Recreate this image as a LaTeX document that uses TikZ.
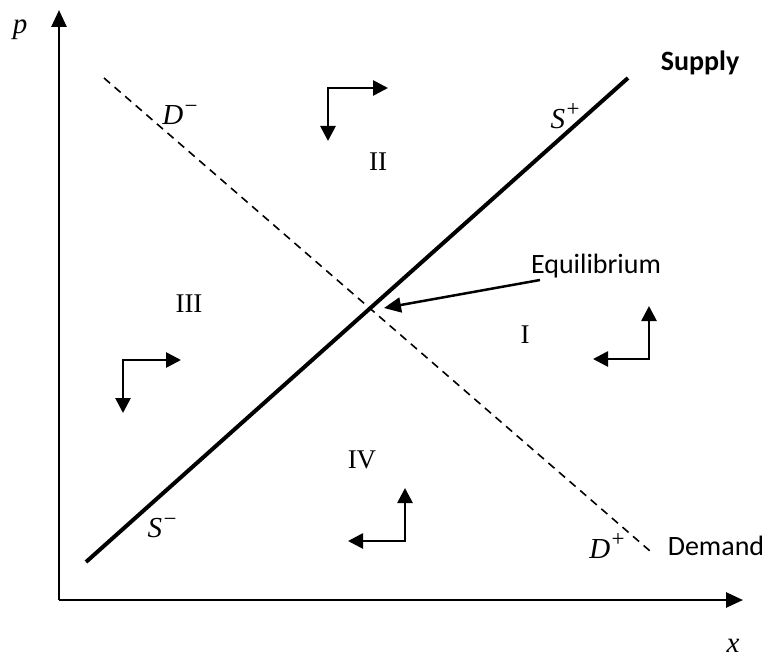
\documentclass[tikz,border=0pt]{standalone}
\usepackage{fontspec}
\setmainfont{Liberation Serif}
\newfontfamily\calib{Carlito}
\usetikzlibrary{arrows.meta}
\newcommand{\supsign}[1]{\kern1.5pt\raisebox{0.40em}{\fontsize{23}{24}\selectfont\upshape #1}}
\begin{document}
\begin{tikzpicture}[x=1pt,y=-1pt,
  every node/.style={inner sep=0pt,font=\fontsize{27}{32}\selectfont},
  axisline/.style={line width=2.6pt,-{Triangle[length=17pt,width=15pt]}},
  dirarrow/.style={line width=2.7pt,line join=miter,{Triangle[length=15pt,width=15pt]}-{Triangle[length=15pt,width=15pt]}},
  supplyline/.style={line width=4pt},
  demandline/.style={line width=1.6pt,dash pattern=on 8pt off 6pt},
  eqarrow/.style={line width=2.5pt,-{Triangle[length=17pt,width=15pt]}},
  sanslabel/.style={font=\calib\fontsize{28}{32}\selectfont},
  mathlabel/.style={font=\itshape\fontsize{29}{32}\selectfont}]
\useasboundingbox (0,0) rectangle (774,666);
% axes
\coordinate (O) at (59,600);
\coordinate (ytip) at (59,10);
\coordinate (xtip) at (743,600);
\draw[axisline] (O) -- (ytip);
\draw[axisline] (O) -- (xtip);
\node[mathlabel] (plab) at (20,30) {p};
\node[mathlabel] (xlab) at (733,646) {x};
% supply
\coordinate (s0) at (86,562);
\coordinate (s1) at (628,78);
\draw[supplyline] (s0) -- (s1);
\node[font=\calib\bfseries\fontsize{28}{32}\selectfont] (supply) at (700,63) {Supply};
\node[mathlabel] (splus) at (565,116) {S\supsign{+}};
\node[mathlabel] (sminus) at (162,528) {S\supsign{−}};
% demand
\coordinate (d0) at (104,78);
\coordinate (d1) at (650,551);
\draw[demandline] (d0) -- (d1);
\node[sanslabel] (demand) at (716,546) {Demand};
\node[mathlabel] (dminus) at (180,115) {D\supsign{−}};
\node[mathlabel] (dplus) at (607,546) {D\supsign{+}};
% equilibrium
\node[sanslabel] (eq) at (596,266) {Equilibrium};
\coordinate (eqs) at (540,280);
\coordinate (eqt) at (384,308);
\draw[eqarrow] (eqs) -- (eqt);
% region labels
\node (rI) at (525,335) {I};
\node (rII) at (378,162) {II};
\node (rIII) at (189,304) {III};
\node (rIV) at (362,460) {IV};
% direction arrows
\coordinate (c2) at (328,88);
\coordinate (c2r) at (388,88);
\coordinate (c2d) at (328,141);
\draw[dirarrow] (c2d) -- (c2) -- (c2r);
\coordinate (c3) at (123,360);
\coordinate (c3r) at (181,360);
\coordinate (c3d) at (123,413);
\draw[dirarrow] (c3d) -- (c3) -- (c3r);
\coordinate (c1) at (649,359);
\coordinate (c1u) at (649,306);
\coordinate (c1l) at (593,359);
\draw[dirarrow] (c1l) -- (c1) -- (c1u);
\coordinate (c4) at (405,541);
\coordinate (c4u) at (405,488);
\coordinate (c4l) at (348,541);
\draw[dirarrow] (c4l) -- (c4) -- (c4u);
\end{tikzpicture}
\end{document}
